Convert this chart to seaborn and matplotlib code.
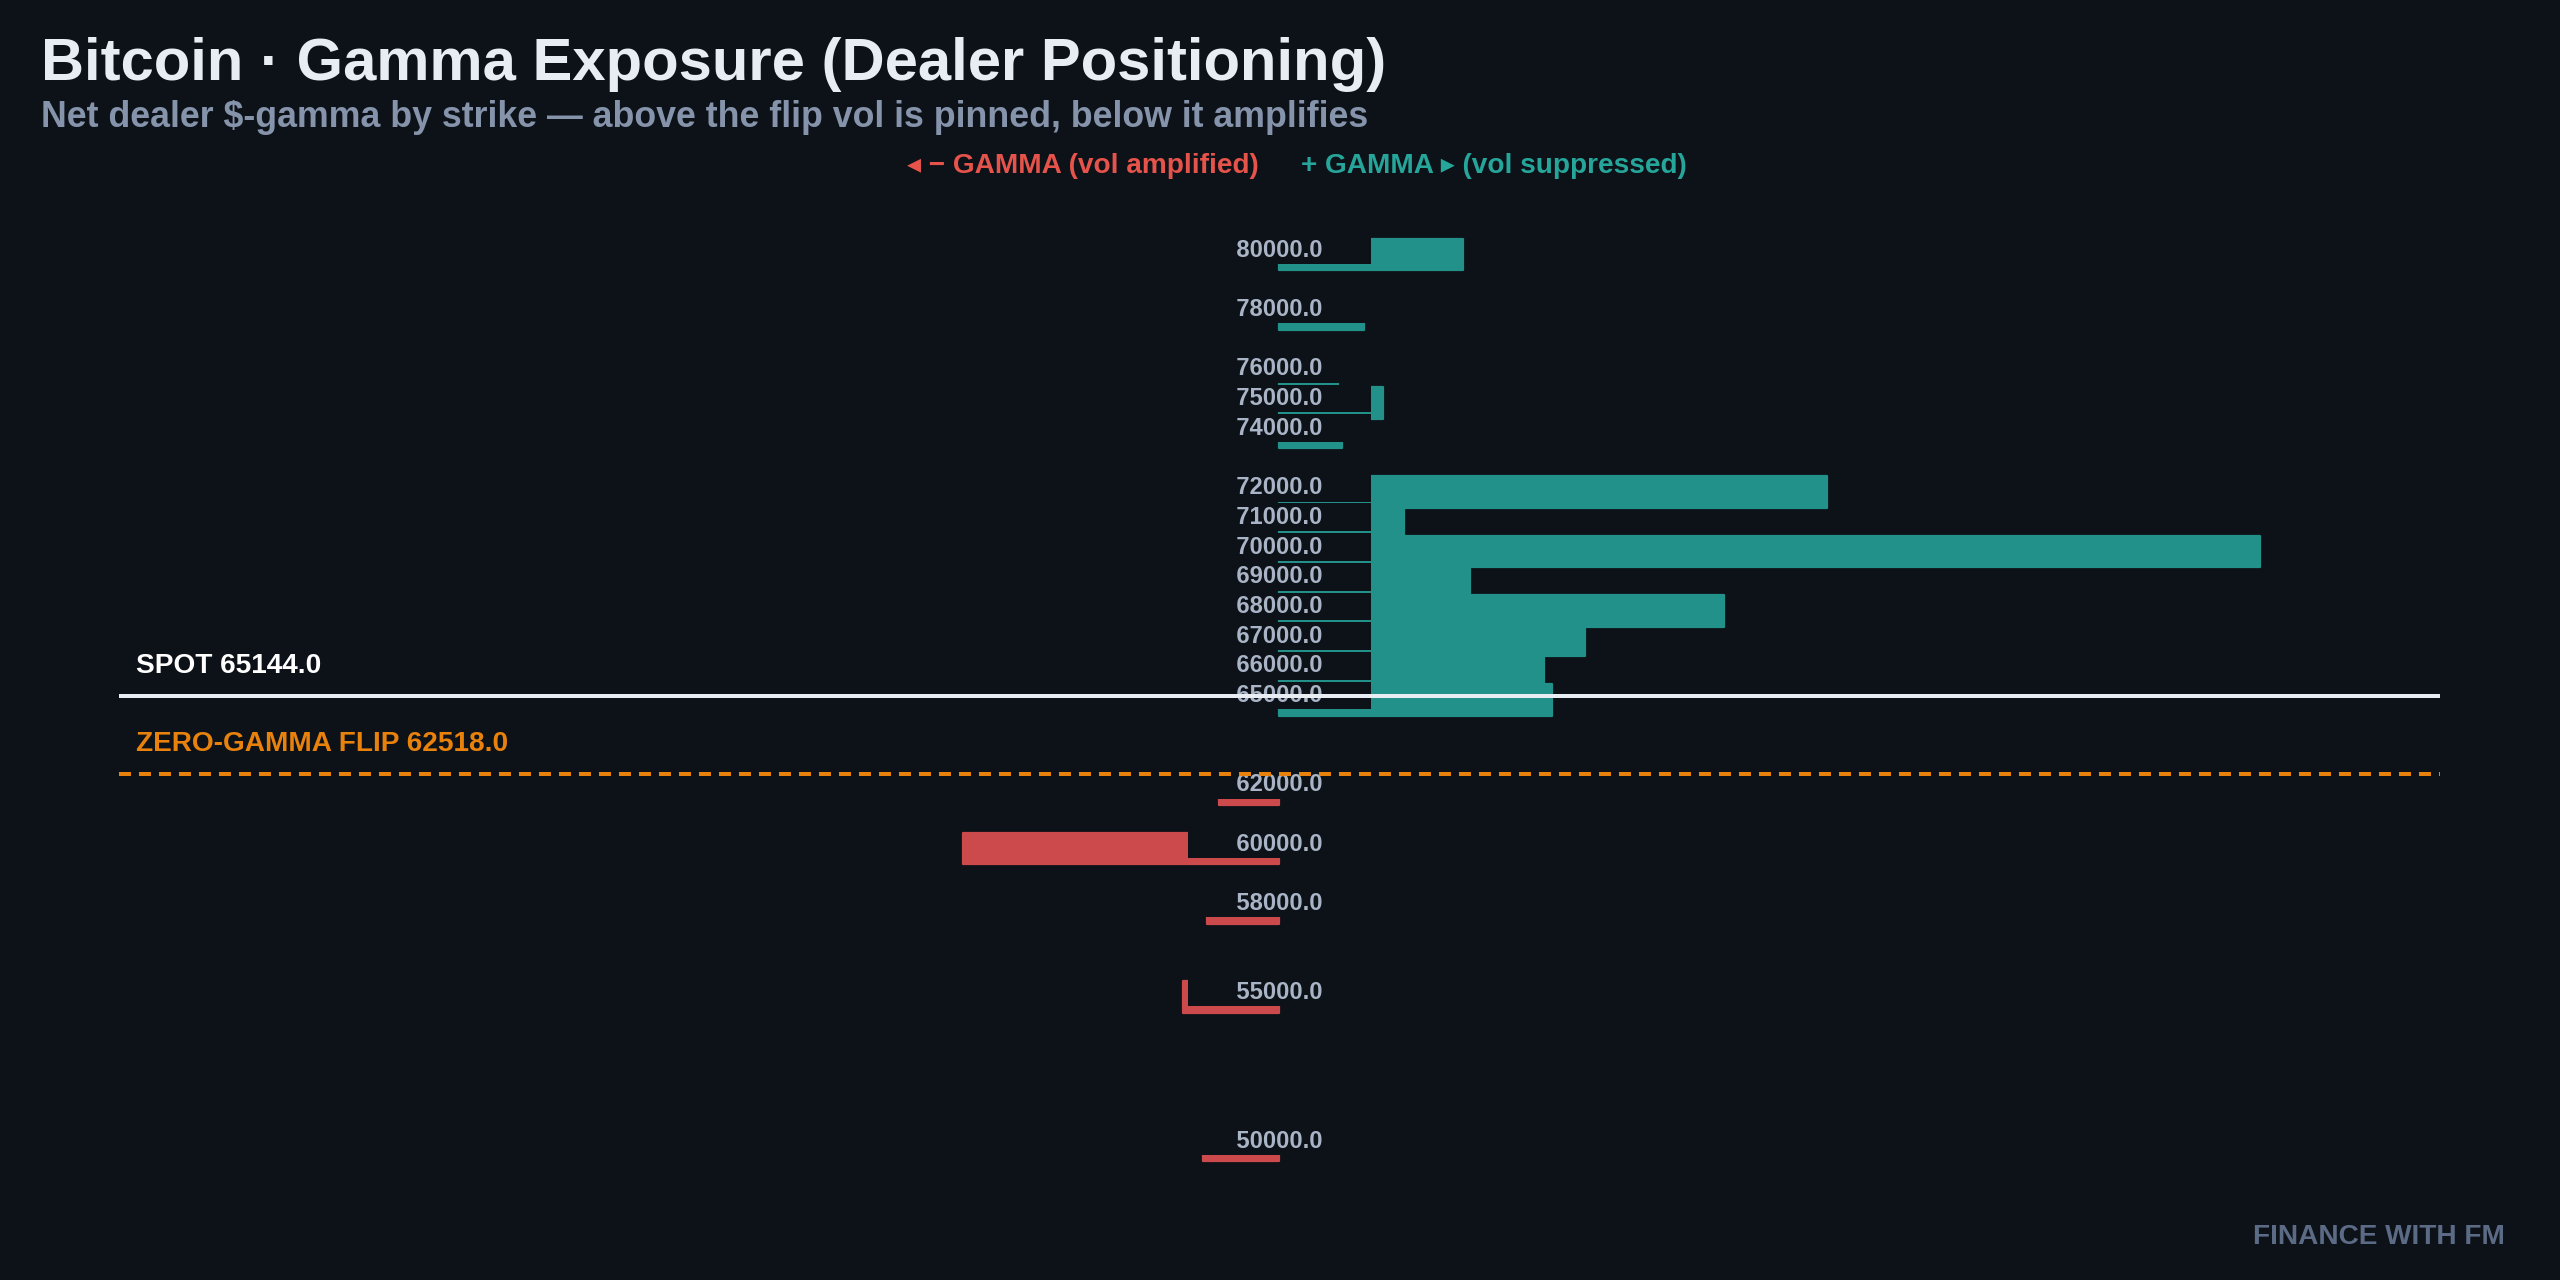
import numpy as np
import pandas as pd
import seaborn as sns
import matplotlib.pyplot as plt

# strikes and net dealer $-gamma (arbitrary $M units)
strikes = [80000, 78000, 76000, 75000, 74000, 72000, 71000, 70000, 69000, 68000,
           67000, 66000, 65000, 62000, 60000, 58000, 55000, 50000]
net_gamma = [1.83, 0.84, 0.58, 1.03, 0.62, 5.47, 1.24, 9.80, 1.90, 4.44,
             3.05, 2.64, 2.72, -0.60, -3.16, -0.72, -0.96, -0.76]
spot = 65144.0
zero_gamma_flip = 62518.0

title = "Bitcoin · Gamma Exposure (Dealer Positioning)"
subtitle = "Net dealer $-gamma by strike — above the flip vol is pinned, below it amplifies"
neg_key = "◂ − GAMMA (vol amplified)"
pos_key = "+ GAMMA ▸ (vol suppressed)"
watermark = "FINANCE WITH FM"

BG = "#0d1118"
TEAL = "#21918a"
RED = "#cc4a4b"
LABEL = "#a9b5c6"
ORANGE = "#e8820c"

df = pd.DataFrame({"strike": strikes, "gamma": net_gamma})
df["side"] = np.where(df["gamma"] >= 0, "pos", "neg")

sns.set_theme(style="dark", rc={"axes.facecolor": BG, "figure.facecolor": BG})
plt.rcParams["font.family"] = ["Liberation Sans", "DejaVu Sans"]

fig = plt.figure(figsize=(16, 8), dpi=160, facecolor=BG)
ax = fig.add_axes([0.0465, 0.0625, 0.9066, 0.78125])

sns.barplot(data=df, x="gamma", y="strike", hue="side",
            palette={"pos": TEAL, "neg": RED}, saturation=1, orient="y",
            native_scale=True, width=1.06, dodge=False, errorbar=None,
            legend=False, ax=ax)
# soften the bar corners a bit
for p in ax.patches:
    p.set_edgecolor(p.get_facecolor())
    p.set_linewidth(1.0)
    p.set_joinstyle("round")

ax.set_xlim(-11.6, 11.6)
ax.set_ylim(48165, 81835)
ax.axis("off")

# strike labels sit on a dark box in the middle
pad = " " * 7
for s in strikes:
    ax.text(0, s + 150, f"{pad}{s:.1f}{pad}", ha="center", va="center",
            fontsize=10.7, fontweight="bold", color=LABEL, zorder=3,
            bbox=dict(boxstyle="square,pad=0.1", fc=BG, ec="none"))

ax.axhline(spot, color="#e8edf3", lw=1.8, zorder=4)
ax.axhline(zero_gamma_flip, color=ORANGE, lw=1.8, ls=(0, (3, 2)), zorder=4)
ax.annotate(f"SPOT {spot:.1f}", xy=(0, spot), xycoords=("axes fraction", "data"),
            xytext=(7.6, 13.5), textcoords="offset points", va="center",
            fontsize=12.6, fontweight="bold", color="white", zorder=5)
ax.annotate(f"ZERO-GAMMA FLIP {zero_gamma_flip:.1f}", xy=(0, zero_gamma_flip),
            xycoords=("axes fraction", "data"), xytext=(7.6, 13.5),
            textcoords="offset points", va="center",
            fontsize=12.6, fontweight="bold", color=ORANGE, zorder=5)

fig.text(41 / 2560, 0.9375, title, fontsize=26.9, fontweight="bold",
         color="#e8edf4", va="baseline")
fig.text(41 / 2560, 0.9008, subtitle, fontsize=16.1, fontweight="bold",
         color="#8593ab", va="baseline")
fig.text(1259 / 2560, 0.8648, neg_key, fontsize=12.6, fontweight="bold",
         color="#e5534b", ha="right", va="baseline")
fig.text(1301 / 2560, 0.8648, pos_key, fontsize=12.6, fontweight="bold",
         color="#26a69a", ha="left", va="baseline")
fig.text(2505 / 2560, 1 - 1237 / 1280, watermark, fontsize=12.6, fontweight="bold",
         color="#5c6b85", ha="right", va="center")

fig.savefig("out.png", dpi=160, facecolor=BG)
